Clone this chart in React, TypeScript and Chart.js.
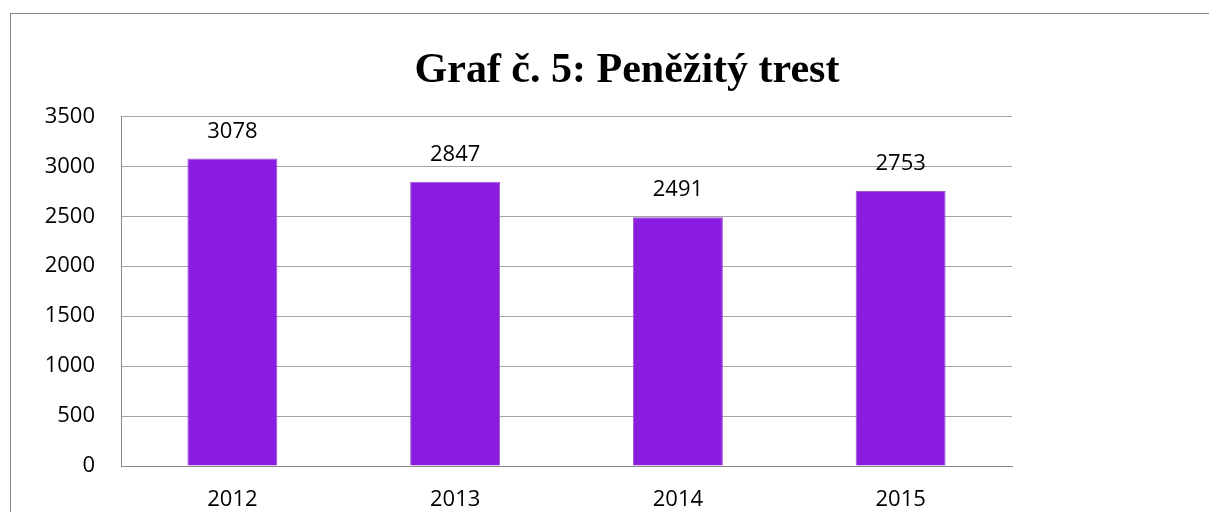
import React, { useEffect, useRef } from "react";
import { Chart, registerables } from "chart.js";

Chart.register(...registerables);

const categories = ["2012", "2013", "2014", "2015"];
const values = [3078, 2847, 2491, 2753];
const yMin = 0;
const yMax = 3500;
const yStep = 500;
const titleText = "Graf č. 5: Peněžitý trest";

const labelFont = { family: "'Open Sans', 'Noto Sans', sans-serif", size: 22 };

const valueLabels = {
  id: "valueLabels",
  afterDatasetsDraw(chart: any) {
    const ctx = chart.ctx;
    const meta = chart.getDatasetMeta(0);
    ctx.save();
    ctx.font = `${labelFont.size}px ${labelFont.family}`;
    ctx.fillStyle = "#000";
    ctx.textAlign = "center";
    ctx.textBaseline = "middle";
    meta.data.forEach((bar: any, i: number) => {
      ctx.fillText(String(values[i]), bar.x, bar.y - 27);
    });
    ctx.restore();
  },
};

export default function App() {
  const ref = useRef<HTMLCanvasElement | null>(null);
  useEffect(() => {
    if (!ref.current) return;
    const chart = new Chart(ref.current, {
      type: "bar",
      data: {
        labels: categories,
        datasets: [
          {
            data: values,
            backgroundColor: "#8A1CE2",
            borderColor: "#9A55CC",
            borderWidth: 1,
            categoryPercentage: 1,
            barPercentage: 0.404,
          },
        ],
      },
      options: {
        responsive: false,
        animation: false,
        devicePixelRatio: 1,
        layout: { padding: { left: 0, right: 0, top: 0, bottom: 20 } },
        plugins: {
          legend: { display: false },
          tooltip: { enabled: false },
          title: {
            display: true,
            text: titleText,
            color: "#000",
            font: { family: "'Liberation Serif', 'Times New Roman', serif", size: 42, weight: "bold" },
            padding: { top: 32, bottom: 20 },
          },
        },
        scales: {
          x: {
            afterFit(scale: any) {
              scale.height = 48;
            },
            grid: { display: false, drawTicks: false },
            border: { display: true, color: "#888888", width: 1 },
            ticks: { color: "#000", font: labelFont, padding: 21, maxRotation: 0 },
          },
          y: {
            min: yMin,
            max: yMax,
            afterFit(scale: any) {
              scale.width = 110;
            },
            grid: { color: "#A5A5A5", lineWidth: 1, drawTicks: false },
            border: { display: true, color: "#888888", width: 1 },
            ticks: {
              stepSize: yStep,
              color: "#000",
              font: labelFont,
              padding: 26,
              callback: (v: any) => String(v),
            },
          },
          yRight: {
            position: "right",
            display: true,
            afterFit(scale: any) {
              scale.width = 231;
            },
            grid: { display: false, drawTicks: false },
            border: { display: false },
            ticks: { display: false },
          },
        },
      },
      plugins: [valueLabels],
    });
    return () => chart.destroy();
  }, []);

  return (
    <div style={{ position: "fixed", inset: 0, overflow: "hidden", background: "#fff" }}>
      <div
        style={{
          position: "absolute",
          left: 10,
          top: 13,
          width: 1232,
          height: 520,
          borderLeft: "1px solid #888",
          borderTop: "1px solid #888",
        }}
      >
        <canvas ref={ref} width={1232} height={520} style={{ display: "block" }} />
      </div>
    </div>
  );
}
